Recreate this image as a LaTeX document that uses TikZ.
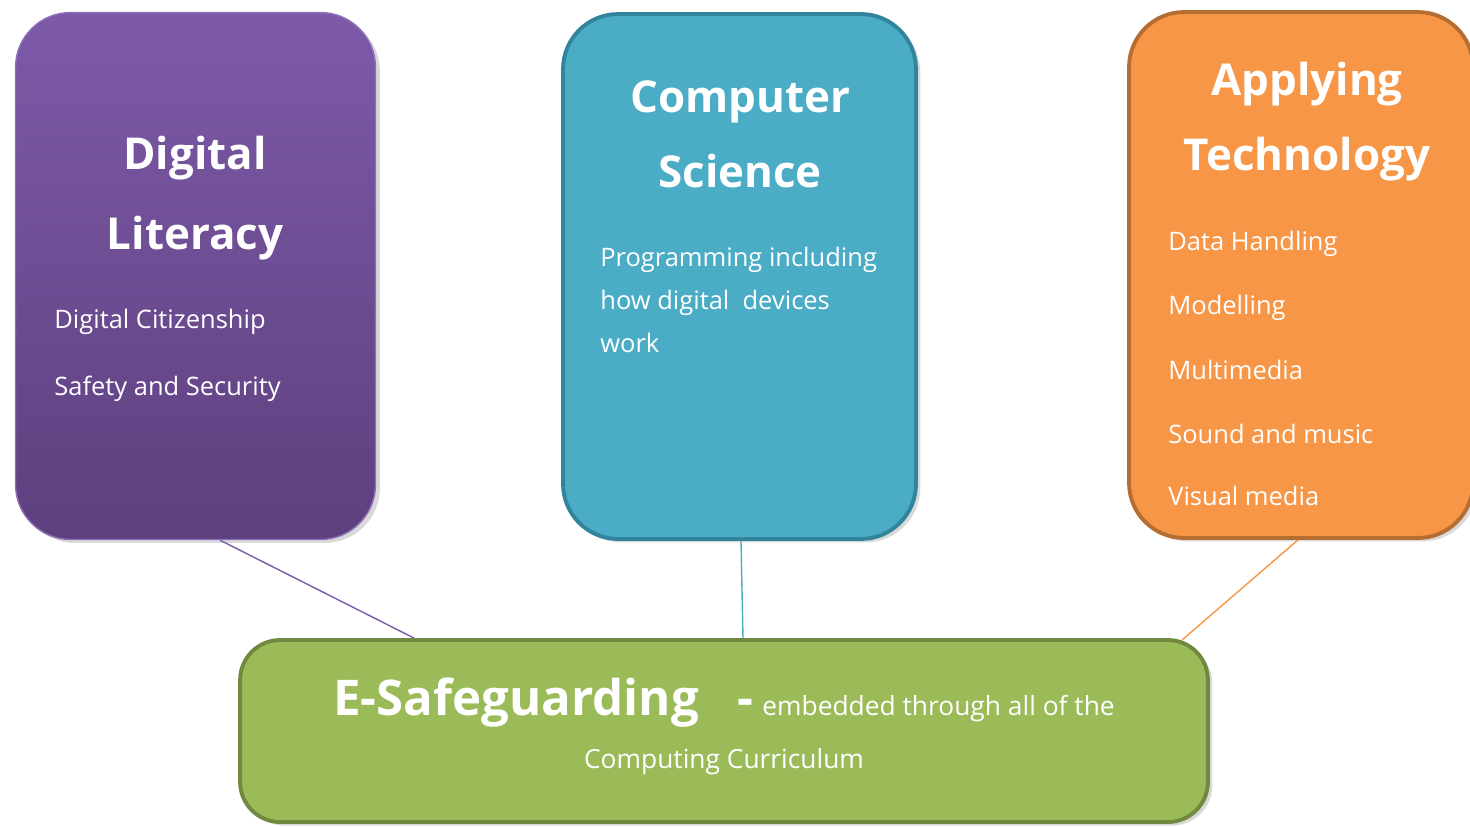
\documentclass[tikz,border=0pt]{standalone}
\usepackage{fontspec}
\setmainfont{Open Sans}
\usetikzlibrary{shadows}

\definecolor{litTop}{HTML}{7D5AA8}
\definecolor{litBot}{HTML}{5D407E}
\definecolor{litLine}{HTML}{8C6FB8}
\definecolor{sciFill}{HTML}{4BACC6}
\definecolor{sciLine}{HTML}{31849B}
\definecolor{techFill}{HTML}{F79646}
\definecolor{techLine}{HTML}{B66D31}
\definecolor{safeFill}{HTML}{9BBB59}
\definecolor{safeLine}{HTML}{71893F}

\begin{document}
\begin{tikzpicture}[
    x=0.02cm, y=-0.02cm,
    panel/.style={rectangle, rounded corners=1.1cm, inner sep=0pt,
        drop shadow={shadow xshift=2.5pt, shadow yshift=-2pt, opacity=0.3}},
    head/.style={anchor=base, inner sep=0pt, text=white, font=\fontsize{25}{30}\selectfont\bfseries},
    item/.style={anchor=base west, inner sep=0pt, text=white, font=\fontsize{14.5}{17}\selectfont},
    link/.style={line width=0.8pt}
]
\useasboundingbox (0,0) rectangle (1470,826);
\clip (0,0) rectangle (1470,826);

% Блоки
\node[panel, draw=litLine, line width=0.8pt, top color=litTop, bottom color=litBot,
    minimum width=7.2cm, minimum height=10.54cm] (lit) at (195.5, 276) {};
\node[panel, draw=sciLine, line width=2.2pt, fill=sciFill,
    minimum width=7.06cm, minimum height=10.5cm] (sci) at (739.5, 276.5) {};
\node[panel, draw=techLine, line width=2.2pt, fill=techFill,
    minimum width=6.88cm, minimum height=10.52cm] (tech) at (1301, 275) {};
\node[panel, rounded corners=0.8cm, draw=safeLine, line width=2.2pt, fill=safeFill,
    minimum width=19.36cm, minimum height=3.64cm] (safe) at (724, 731) {};

% Digital Literacy
\node[head] (litA) at (195, 169) {Digital};
\node[head] (litB) at (195, 249) {Literacy};
\node[item] (lit1) at (54, 328) {Digital Citizenship};
\node[item] (lit2) at (54, 395) {Safety and Security};

% Computer Science
\node[head] (sciA) at (740, 112) {Computer};
\node[head] (sciB) at (740, 187) {Science};
\node[item] (sci1) at (600, 266) {Programming including};
\node[item] (sci2) at (600, 309) {how digital\ \ devices};
\node[item] (sci3) at (600, 352) {work};

% Applying Technology
\node[head] (techA) at (1307, 95) {Applying};
\node[head] (techB) at (1307, 170) {Technology};
\node[item] (tech1) at (1168, 250) {Data Handling};
\node[item] (tech2) at (1168, 314) {Modelling};
\node[item] (tech3) at (1168, 379) {Multimedia};
\node[item] (tech4) at (1168, 443) {Sound and music};
\node[item] (tech5) at (1168, 505) {Visual media};

% E-Safeguarding
\node[anchor=base, inner sep=0pt, text=white] (safeA) at (724, 715)
    {{\fontsize{28}{34}\selectfont\bfseries E-Safeguarding\ \ \ -}\ \ {\fontsize{15}{18}\selectfont embedded through all of the}};
\node[anchor=base, inner sep=0pt, text=white, font=\fontsize{15}{18}\selectfont] (safeB) at (724, 768) {Computing Curriculum};

% Связи
\draw[link, draw=litTop] ([xshift=0.49cm]lit.south) -- ([xshift=-6.2cm]safe.north);
\draw[link, draw=sciFill] ([xshift=0.03cm]sci.south) -- ([xshift=0.38cm]safe.north);
\draw[link, draw=techFill] ([xshift=-0.06cm]tech.south) -- ([xshift=9.16cm, yshift=-0.04cm]safe.north);
\end{tikzpicture}
\end{document}
